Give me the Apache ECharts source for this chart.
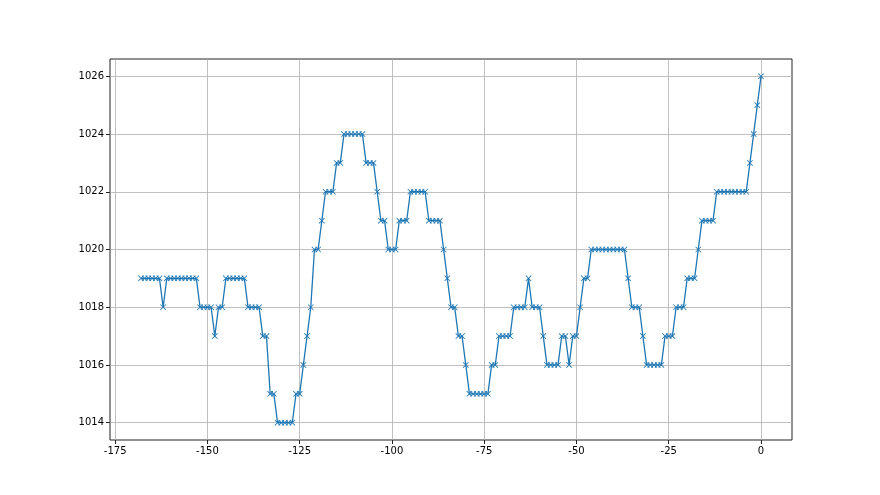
<!DOCTYPE html>
<html>
<head>
<meta charset="utf-8">
<script src="https://cdn.jsdelivr.net/npm/echarts@6/dist/echarts.min.js"></script>
<style>
  html, body { margin: 0; padding: 0; background: #fff; }
  #chart { width: 880px; height: 495px; }
</style>
</head>
<body>
<div id="chart"></div>
<script>
// hours before now (-168 .. 0) and the reading at each hour
var startHour = -168
var readings = [
  1019, 1019, 1019, 1019, 1019, 1019, 1018,
  1019, 1019, 1019, 1019, 1019, 1019, 1019, 1019, 1019,
  1018, 1018, 1018, 1018, 1017, 1018, 1018,
  1019, 1019, 1019, 1019, 1019, 1019,
  1018, 1018, 1018, 1018, 1017, 1017, 1015, 1015,
  1014, 1014, 1014, 1014, 1014, 1015, 1015, 1016, 1017, 1018,
  1020, 1020, 1021, 1022, 1022, 1022, 1023, 1023,
  1024, 1024, 1024, 1024, 1024, 1024, 1023, 1023, 1023, 1022,
  1021, 1021, 1020, 1020, 1020, 1021, 1021, 1021,
  1022, 1022, 1022, 1022, 1022, 1021, 1021, 1021, 1021,
  1020, 1019, 1018, 1018, 1017, 1017, 1016,
  1015, 1015, 1015, 1015, 1015, 1015, 1016, 1016,
  1017, 1017, 1017, 1017, 1018, 1018, 1018, 1018, 1019,
  1018, 1018, 1018, 1017, 1016, 1016, 1016, 1016,
  1017, 1017, 1016, 1017, 1017, 1018, 1019, 1019,
  1020, 1020, 1020, 1020, 1020, 1020, 1020, 1020, 1020, 1020,
  1019, 1018, 1018, 1018, 1017, 1016, 1016, 1016, 1016, 1016,
  1017, 1017, 1017, 1018, 1018, 1018, 1019, 1019, 1019, 1020,
  1021, 1021, 1021, 1021,
  1022, 1022, 1022, 1022, 1022, 1022, 1022, 1022, 1022,
  1023, 1024, 1025, 1026
]
var xTicks = [-175, -150, -125, -100, -75, -50, -25, 0]
var yTicks = [1014, 1016, 1018, 1020, 1022, 1024, 1026]

var points = readings.map(function (v, i) { return [startHour + i, v] })

var cross = 'path://M0,1L1,0L5,4L9,0L10,1L6,5L10,9L9,10L5,6L1,10L0,9L4,5Z'
var gridColor = '#b0b0b0'
var labelStyle = { color: '#000', fontSize: 10, fontFamily: 'DejaVu Sans' }

var chart = echarts.init(document.getElementById('chart'))
chart.setOption({
  animation: false,
  backgroundColor: '#fff',
  grid: {
    left: 110, right: 88, top: 59, bottom: 55,
    show: true, borderColor: '#222', borderWidth: 1, backgroundColor: 'transparent'
  },
  xAxis: {
    type: 'value',
    min: -176.4,
    max: 8.4,
    axisLine: { show: false, onZero: false },
    axisTick: { show: true, inside: false, length: 4, lineStyle: { color: '#222' }, customValues: xTicks },
    axisLabel: Object.assign({ margin: 6, customValues: xTicks }, labelStyle),
    splitLine: { show: true, showMinLine: true, showMaxLine: true, lineStyle: { color: gridColor, width: 0.8 } }
  },
  yAxis: {
    type: 'value',
    min: 1013.4,
    max: 1026.6,
    axisLine: { show: false, onZero: false },
    axisTick: { show: true, inside: false, length: 4, lineStyle: { color: '#222' }, customValues: yTicks },
    axisLabel: Object.assign({ margin: 6, customValues: yTicks, formatter: function (v) { return String(v) } }, labelStyle),
    splitLine: { show: true, showMinLine: true, showMaxLine: true, lineStyle: { color: gridColor, width: 0.8 } }
  },
  series: [{
    type: 'line',
    data: points,
    symbol: cross,
    symbolSize: 6,
    showAllSymbol: true,
    lineStyle: { color: '#1f77b4', width: 1.3 },
    itemStyle: { color: '#1f77b4' }
  }]
})
</script>
</body>
</html>
